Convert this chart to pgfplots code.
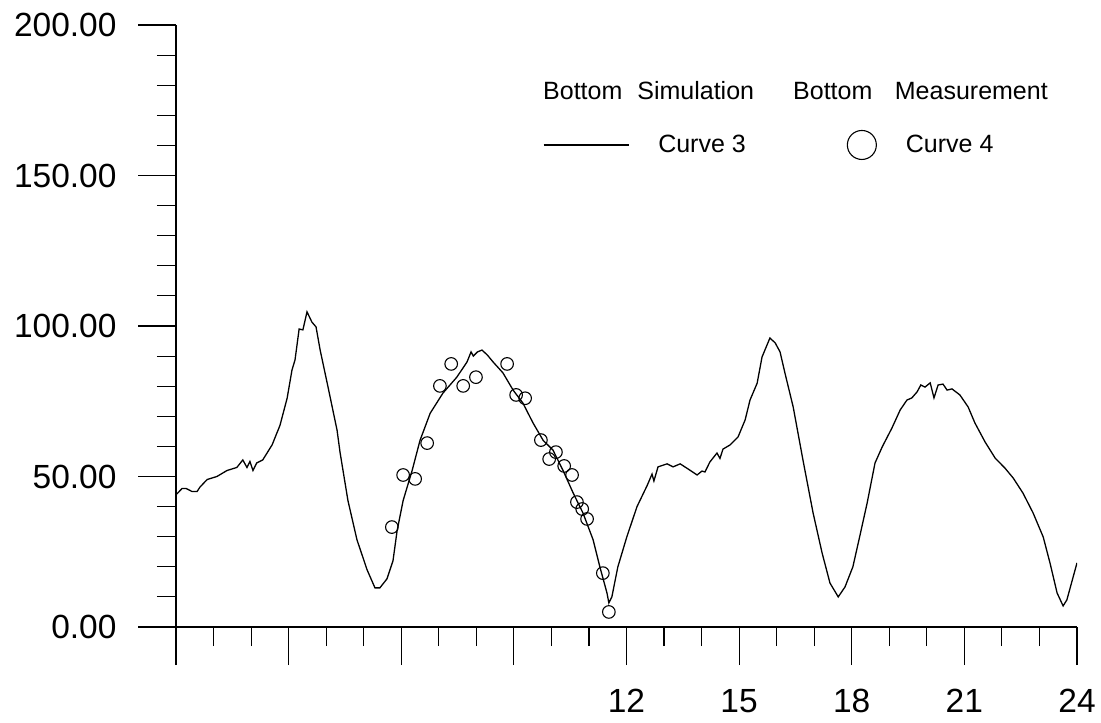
\documentclass[border=0pt]{standalone}
\usepackage{fontspec}
\setmainfont{Liberation Sans}
\usepackage{pgfplots}
\pgfplotsset{compat=1.18}
\pgfplotstableread{
h v
0.00 43.9
0.16 46
0.27 46
0.43 45
0.56 45
0.64 46.5
0.83 49
1.09 50
1.36 52
1.62 53
1.78 55.5
1.89 53
1.97 55
2.05 52
2.15 54.5
2.31 55.5
2.56 60.5
2.77 67
2.96 76
3.09 85.4
3.17 88.7
3.28 99
3.38 98.7
3.49 104.7
3.62 101.3
3.73 99.7
3.84 92
4.05 79.7
4.29 65.4
4.37 58
4.58 42
4.82 29
5.09 19
5.30 13
5.43 13
5.62 16
5.78 22
5.89 32
6.05 42
6.29 52
6.50 62
6.77 71
7.11 77.7
7.48 83
7.75 88
7.86 91.4
7.92 90
8.03 91.4
8.15 92
8.29 90.4
8.45 88
8.71 84.4
8.98 78.7
9.24 74.4
9.51 67.8
9.78 62
10.04 58.8
10.31 52
10.58 44.5
10.84 37.9
11.11 29
11.29 20
11.48 11.3
11.53 8
11.61 10
11.77 20
12.01 30
12.28 40
12.55 47
12.68 50.8
12.73 48.5
12.84 53.2
13.08 54.2
13.24 53.2
13.43 54.2
13.64 52.5
13.88 50.5
14.01 51.8
14.09 51.5
14.22 54.8
14.41 57.8
14.49 56
14.57 59.1
14.76 60.5
14.97 63.1
15.16 68.8
15.29 75.4
15.48 81
15.61 89.7
15.82 96
15.96 94.4
16.09 91.4
16.22 84.4
16.44 73.1
16.70 55.5
16.97 37.9
17.21 24.6
17.42 14.6
17.64 10
17.82 13.3
18.03 20
18.22 30.5
18.41 41.2
18.62 54.5
18.81 59.8
19.07 66.1
19.29 72.1
19.47 75.4
19.60 76.1
19.74 78.1
19.84 80.4
19.95 79.7
20.09 81.1
20.19 76.1
20.30 80.4
20.43 80.7
20.54 78.7
20.67 79.1
20.88 77.1
21.10 73.1
21.28 67.8
21.55 61.5
21.82 56.1
22.08 52.8
22.30 49.5
22.56 44.5
22.83 37.9
23.10 29.9
23.28 21.3
23.47 11.3
23.63 7
23.73 9
24.00 21.3
}\simdata
\pgfplotstableread{
h v
5.75 33.2
6.05 50.5
6.37 49.2
6.69 61.1
7.03 80.1
7.33 87.4
7.65 80.1
7.99 83.0
8.82 87.4
9.06 77.1
9.30 76.0
9.72 62.1
9.94 55.8
10.12 58.1
10.34 53.5
10.55 50.5
10.68 41.5
10.82 39.2
10.95 35.9
11.37 17.9
11.53 5.0
}\measdata
\begin{document}
\begin{tikzpicture}
\begin{axis}[
  scale only axis,
  width=901bp, height=602bp,
  xmin=0, xmax=24, ymin=0, ymax=200,
  axis x line*=bottom, axis y line*=left,
  axis line style={line width=1.1bp},
  tick style={line width=1.1bp, black},
  tick align=outside,
  major tick length=38bp,
  minor tick length=19bp,
  xtick={0,3,...,24},
  xticklabels={,,,,12,15,18,21,24},
  minor x tick num=2,
  ytick={0,50,...,200},
  minor y tick num=4,
  yticklabel={\pgfmathprintnumber[fixed,fixed zerofill,precision=2,assume math mode=true]{\tick}},
  ticklabel style={font=\fontsize{33.5bp}{40bp}\selectfont},
  xticklabel style={yshift=-21bp},
  yticklabel style={xshift=-18bp},
  /pgf/number format/assume math mode=true,
  legend columns=2,
  legend style={draw=none, fill=none, at={(0.4073,0.8007)}, anchor=west,
    inner sep=0pt, column sep=0pt,
    font=\fontsize{25bp}{29bp}\selectfont,
    nodes={inner xsep=29bp, inner ysep=2bp},
    /tikz/every even column/.append style={column sep=72bp}},
  legend cell align=left,
]
\addplot[black, line width=1.3bp, mark=none,
  legend image code/.code={\draw[black, line width=1.1bp] (0bp,0) -- (85bp,0);}]
  table[x=h,y=v]{\simdata};
\addlegendentry{Curve 3}
\addplot[only marks, mark=o, mark size=6.3bp, mark options={line width=1.1bp, black},
  legend image code/.code={\draw[black, line width=1.1bp] (14.5bp,0) circle (14.5bp);}]
  table[x=h,y=v]{\measdata};
\addlegendentry{Curve 4}
\node[anchor=west, inner sep=0pt, font=\fontsize{25bp}{29bp}\selectfont] at (rel axis cs:0.4073,0.8904) {Bottom\hspace{0.6em}Simulation};
\node[anchor=west, inner sep=0pt, font=\fontsize{25bp}{29bp}\selectfont] at (rel axis cs:0.6848,0.8904) {Bottom\hspace{0.9em}Measurement};
\end{axis}
\pgfresetboundingbox
\useasboundingbox (-176bp,-96bp) rectangle (925bp,627bp);
\end{tikzpicture}
\end{document}
